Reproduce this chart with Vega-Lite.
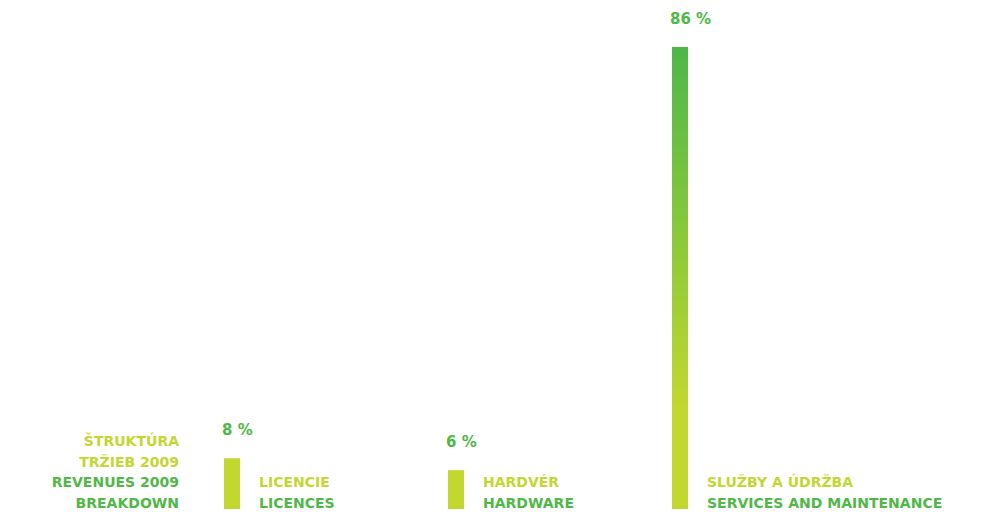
{
  "$schema": "https://vega.github.io/schema/vega-lite/v6.json",
  "width": 1005,
  "height": 512,
  "autosize": "none",
  "padding": 0,
  "background": "white",
  "config": {"view": {"stroke": null}, "font": "DejaVu Sans"},
  "title": {
    "text": ["ŠTRUKTÚRA", "TRŽIEB 2009"],
    "subtitle": ["REVENUES 2009", "BREAKDOWN"],
    "orient": "bottom",
    "anchor": "start",
    "align": "right",
    "frame": "group",
    "offset": 0,
    "dx": 179,
    "dy": -77,
    "font": "DejaVu Sans",
    "fontSize": 14,
    "fontWeight": "bold",
    "color": "#c2d72f",
    "lineHeight": 20.7,
    "subtitleFont": "DejaVu Sans",
    "subtitleFontSize": 14,
    "subtitleFontWeight": "bold",
    "subtitleColor": "#50b848",
    "subtitleLineHeight": 20.7,
    "subtitlePadding": 6.7
  },
  "data": {
    "values": [
      {"sk": "LICENCIE", "en": "LICENCES", "value": 8, "label": "8 %"},
      {"sk": "HARDVÉR", "en": "HARDWARE", "value": 6, "label": "6 %"},
      {"sk": "SLUŽBY A ÚDRŽBA", "en": "SERVICES AND MAINTENANCE", "value": 86, "label": "86 %"}
    ]
  },
  "encoding": {
    "x": {
      "field": "sk",
      "type": "nominal",
      "sort": null,
      "axis": null,
      "scale": {"type": "band", "domain": ["LICENCIE", "HARDVÉR", "SLUŽBY A ÚDRŽBA"], "range": [120, 792], "paddingInner": 0, "paddingOuter": 0}
    }
  },
  "layer": [
    {
      "transform": [{"filter": "datum.value < 50"}],
      "mark": {"type": "bar", "width": 16, "fill": "#c2d72f"},
      "encoding": {
        "y": {"field": "value", "type": "quantitative", "axis": null,
              "scale": {"type": "pow", "exponent": 0.93, "domain": [0, 86], "range": [509, 47], "nice": false, "zero": true}}
      }
    },
    {
      "transform": [{"filter": "datum.value >= 50"}],
      "mark": {"type": "bar", "width": 16,
        "fill": {"gradient": "linear", "x1": 0, "y1": 0, "x2": 0, "y2": 1,
          "stops": [{"offset": 0, "color": "#4cb848"}, {"offset": 0.78, "color": "#c2d72f"}, {"offset": 1, "color": "#c2d72f"}]}},
      "encoding": {
        "y": {"field": "value", "type": "quantitative"}
      }
    },
    {
      "mark": {"type": "text", "align": "left", "baseline": "alphabetic", "dx": -10, "dy": -23, "fontSize": 15, "fontWeight": "bold", "color": "#50b848"},
      "encoding": {
        "y": {"field": "value", "type": "quantitative"},
        "text": {"field": "label"}
      }
    },
    {
      "mark": {"type": "text", "align": "left", "baseline": "alphabetic", "dx": 27, "dy": -22, "fontSize": 14, "fontWeight": "bold", "color": "#c2d72f"},
      "encoding": {
        "y": {"datum": 0, "type": "quantitative"},
        "text": {"field": "sk"}
      }
    },
    {
      "mark": {"type": "text", "align": "left", "baseline": "alphabetic", "dx": 27, "dy": -1, "fontSize": 14, "fontWeight": "bold", "color": "#50b848"},
      "encoding": {
        "y": {"datum": 0, "type": "quantitative"},
        "text": {"field": "en"}
      }
    }
  ]
}
